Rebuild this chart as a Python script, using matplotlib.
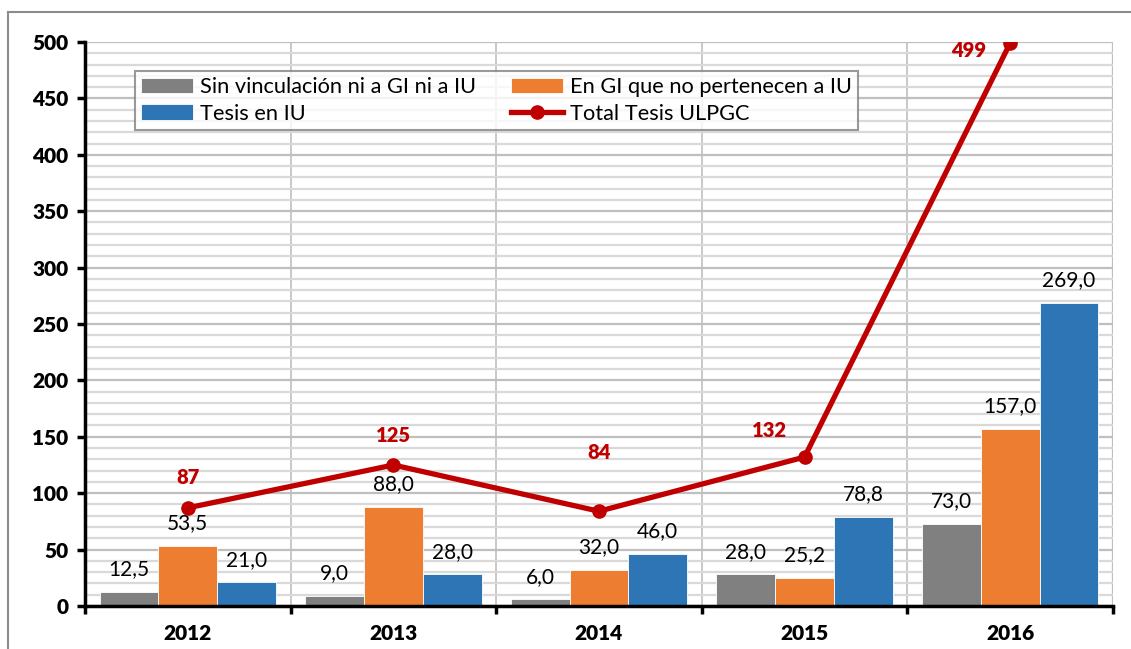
import numpy as np
import matplotlib
matplotlib.use('Agg')
import matplotlib.pyplot as plt
from matplotlib.lines import Line2D

plt.rcParams['font.family'] = ['Lato', 'DejaVu Sans']

years = ['2012', '2013', '2014', '2015', '2016']
sin_vinc = [12.5, 9.0, 6.0, 28.0, 73.0]
en_gi = [53.5, 88.0, 32.0, 25.2, 157.0]
tesis_iu = [21.0, 28.0, 46.0, 78.8, 269.0]
total = [87, 125, 84, 132, 499]

# offsets (points) for the total labels
total_offsets = [(0, 22), (0, 21), (0, 42), (-25, 19), (-30, -5)]

c_gray = '#808080'
c_orange = '#ED7D31'
c_blue = '#2E75B6'
c_red = '#C00000'

fig = plt.figure(figsize=(11.31, 6.49), dpi=100)
ax = fig.add_axes([0.0752, 0.0663, 0.9088, 0.869])

x = np.arange(len(years))
w = 0.286
series = [(sin_vinc, c_gray, 'Sin vinculación ni a GI ni a IU', -w),
          (en_gi, c_orange, 'En GI que no pertenecen a IU', 0),
          (tesis_iu, c_blue, 'Tesis en IU', w)]
bars = []
for vals, col, lab, off in series:
    b = ax.bar(x + off, vals, w, color=col, edgecolor='white', linewidth=0.6,
               label=lab, zorder=2)
    bars.append(b)
    for xi, v in zip(x + off, vals):
        ax.annotate(f'{v:.1f}'.replace('.', ','), (xi, v), xytext=(0, 9),
                    textcoords='offset points', ha='center', va='bottom',
                    fontsize=15, color='black', zorder=4)

line, = ax.plot(x, total, color=c_red, lw=3.8, marker='o', ms=9.5,
                label='Total Tesis ULPGC', zorder=3)
for xi, v, off in zip(x, total, total_offsets):
    ax.annotate(str(v), (xi, v), xytext=off, textcoords='offset points',
                ha='center', va='center', fontsize=14.5, fontweight='heavy',
                color=c_red, zorder=4)

ax.set_xlim(-0.5, len(years) - 0.5)
ax.set_ylim(0, 500)
ax.set_yticks(np.arange(0, 501, 50))
ax.set_yticks(np.arange(0, 501, 10), minor=True)
ax.set_xticks(x)
ax.set_xticklabels(years, fontsize=15, fontweight='heavy')
ax.set_xticks(np.arange(-0.5, len(years), 1), minor=True)
for t in ax.get_yticklabels():
    t.set_fontweight('heavy')
    t.set_fontsize(15)

ax.grid(which='minor', axis='y', color='#d9d9d9', lw=1.6, zorder=0)
ax.grid(which='major', axis='y', color='#bfbfbf', lw=1.6, zorder=0)
ax.grid(which='minor', axis='x', color='#bfbfbf', lw=1.2, zorder=0)
ax.tick_params(axis='x', which='major', length=0, pad=13)
ax.tick_params(axis='x', which='minor', length=6, width=2.5, direction='out')
ax.tick_params(axis='y', which='major', length=6, width=2.5, pad=6)
ax.tick_params(axis='y', which='minor', length=0)

for s in ['top', 'right']:
    ax.spines[s].set_visible(False)
ax.spines['left'].set_linewidth(2.5)
ax.spines['bottom'].set_linewidth(2.5)
ax.axvline(len(years) - 0.5, color='#bfbfbf', lw=1.6, zorder=0)

handles = [bars[0], bars[2], bars[1], line]
labels = [h.get_label() for h in handles]
leg = ax.legend(handles, labels, ncol=2, loc='upper left',
                bbox_to_anchor=(0.0486, 0.9486), borderaxespad=0,
                fontsize=15.7, frameon=True, fancybox=False, shadow=False,
                handlelength=2.4, handleheight=0.7, columnspacing=1.6,
                borderpad=0.28, labelspacing=0.3, handletextpad=0.3)
leg.get_frame().set_edgecolor('#808080')
leg.get_frame().set_linewidth(1.5)

# outer chart border
fig.add_artist(Line2D([8 / 1131, 8 / 1131], [0, 1 - 12 / 649],
                      transform=fig.transFigure, color='#8c8c8c', lw=1.5))
fig.add_artist(Line2D([8 / 1131, 1], [1 - 12 / 649, 1 - 12 / 649],
                      transform=fig.transFigure, color='#8c8c8c', lw=1.5))

fig.savefig('out.png', dpi=100)
